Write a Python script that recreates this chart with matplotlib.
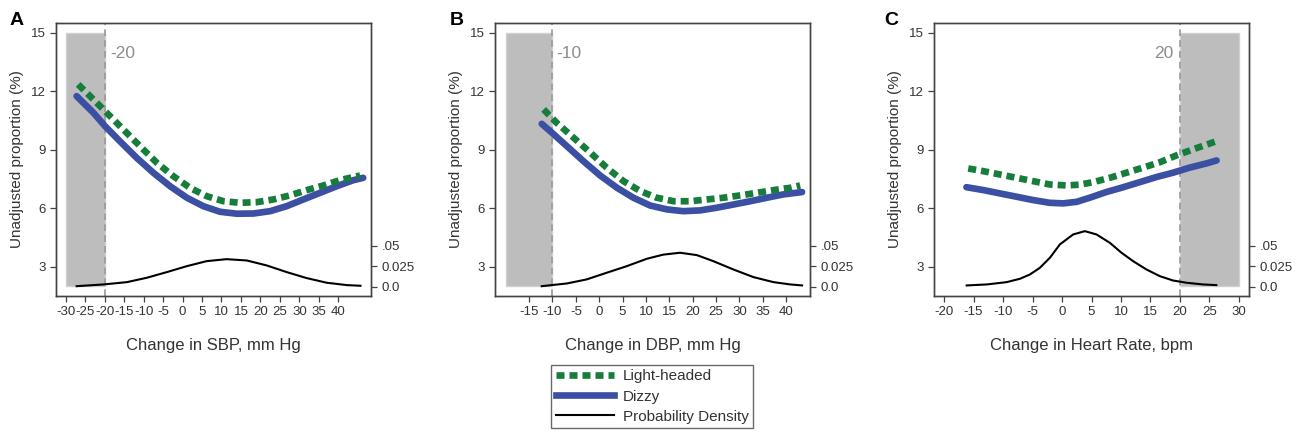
import matplotlib.pyplot as plt
import matplotlib.lines as mlines

plt.rcParams['font.family'] = ['Liberation Sans', 'DejaVu Sans']
plt.rcParams['axes.unicode_minus'] = False

GREEN = '#167d3a'
BLUE = '#3b4fa3'
TXT = '#333333'

# ---- panel A : SBP ----
a_light_x = [-26.8, -22.9, -19.5, -15.2, -10.9, -6.6, -2.4, 1.9, 6.2, 10.5, 14.8, 19.0, 23.3, 27.6, 31.9, 36.2, 40.4, 45.6]
a_light_y = [12.35, 11.58, 10.90, 10.04, 9.18, 8.33, 7.65, 7.05, 6.62, 6.36, 6.28, 6.31, 6.45, 6.66, 6.93, 7.17, 7.44, 7.68]
a_dizzy_x = [-27.2, -22.9, -19.9, -16.1, -11.8, -7.5, -3.2, 1.1, 5.3, 9.6, 13.9, 18.2, 22.5, 26.8, 31.0, 35.3, 39.6, 43.9, 46.4]
a_dizzy_y = [11.75, 10.90, 10.21, 9.44, 8.59, 7.82, 7.13, 6.54, 6.11, 5.82, 5.72, 5.73, 5.85, 6.11, 6.45, 6.79, 7.13, 7.44, 7.56]
a_dens_x = [-27.2, -20.3, -14.3, -9.2, -4.1, 1.1, 6.2, 11.3, 16.5, 21.6, 26.8, 31.9, 37.0, 42.2, 45.7]
a_dens_y = [0.0007, 0.0028, 0.0056, 0.0109, 0.0177, 0.025, 0.0311, 0.0335, 0.0319, 0.0259, 0.0177, 0.0105, 0.0049, 0.0020, 0.0012]

# ---- panel B : DBP ----
b_light_x = [-11.9, -9.1, -5.5, -1.9, 1.6, 5.2, 8.8, 12.3, 15.9, 19.5, 23.0, 26.6, 30.2, 33.7, 37.3, 40.9, 43.0]
b_light_y = [11.07, 10.38, 9.62, 8.85, 8.08, 7.39, 6.88, 6.54, 6.36, 6.36, 6.45, 6.54, 6.66, 6.79, 6.93, 7.05, 7.17]
b_dizzy_x = [-12.3, -10.1, -6.9, -3.4, 0.2, 3.8, 7.3, 10.9, 14.5, 18.0, 21.6, 25.2, 28.7, 32.3, 35.9, 39.4, 43.4]
b_dizzy_y = [10.33, 9.87, 9.18, 8.42, 7.68, 7.05, 6.54, 6.14, 5.94, 5.85, 5.89, 6.03, 6.19, 6.36, 6.54, 6.71, 6.83]
b_dens_x = [-12.3, -6.9, -2.7, 1.6, 5.9, 10.2, 13.7, 17.3, 20.9, 24.4, 28.7, 33.0, 37.3, 40.9, 43.4]
b_dens_y = [0.0007, 0.004, 0.0089, 0.017, 0.025, 0.034, 0.039, 0.0413, 0.0384, 0.0311, 0.021, 0.0117, 0.0056, 0.0028, 0.0016]

# ---- panel C : heart rate ----
c_light_x = [-15.9, -13.3, -10.5, -7.7, -4.9, -2.1, 0.8, 3.0, 5.3, 8.1, 10.9, 13.7, 16.6, 19.4, 22.2, 25.9]
c_light_y = [8.04, 7.90, 7.73, 7.56, 7.39, 7.22, 7.17, 7.21, 7.34, 7.56, 7.82, 8.08, 8.36, 8.71, 9.02, 9.41]
c_dizzy_x = [-16.2, -13.3, -10.5, -7.7, -4.9, -2.1, 0.2, 2.5, 4.7, 7.5, 10.4, 13.2, 16.0, 18.8, 21.6, 24.5, 26.2]
c_dizzy_y = [7.08, 6.93, 6.76, 6.59, 6.42, 6.28, 6.25, 6.33, 6.54, 6.83, 7.08, 7.34, 7.60, 7.82, 8.08, 8.30, 8.45]
c_dens_x = [-16.16, -12.77, -9.39, -7.13, -5.44, -3.75, -2.05, -0.36, 1.89, 3.87, 5.85, 8.10, 10.08, 12.05,
            14.31, 16.57, 18.82, 21.08, 23.90, 26.16]
c_dens_y = [0.0016, 0.0028, 0.0056, 0.0097, 0.0149, 0.023, 0.0352, 0.0514, 0.0635, 0.0675, 0.0635, 0.0534, 0.0413,
            0.0311, 0.021, 0.0129, 0.0076, 0.0049, 0.0028, 0.0020]

panels = [
    dict(tag='A', xlabel='Change in SBP, mm Hg', xlim=(-32.5, 48.4), xticks=list(range(-30, 41, 5)),
         shade=(-30, -20), cut=-20, cut_lbl='-20', lbl_x=-18.6, lbl_ha='left',
         lx=a_light_x, ly=a_light_y, dx=a_dizzy_x, dy=a_dizzy_y, kx=a_dens_x, ky=a_dens_y,
         left=56, tagx=10),
    dict(tag='B', xlabel='Change in DBP, mm Hg', xlim=(-22.3, 45.1), xticks=list(range(-15, 41, 5)),
         shade=(-20, -10), cut=-10, cut_lbl='-10', lbl_x=-9.1, lbl_ha='left',
         lx=b_light_x, ly=b_light_y, dx=b_dizzy_x, dy=b_dizzy_y, kx=b_dens_x, ky=b_dens_y,
         left=495, tagx=450),
    dict(tag='C', xlabel='Change in Heart Rate, bpm', xlim=(-21.7, 31.7), xticks=list(range(-20, 31, 5)),
         shade=(20, 30), cut=20, cut_lbl='20', lbl_x=18.8, lbl_ha='right',
         lx=c_light_x, ly=c_light_y, dx=c_dizzy_x, dy=c_dizzy_y, kx=c_dens_x, ky=c_dens_y,
         left=934, tagx=884),
]

W, H = 1299, 433
fig = plt.figure(figsize=(W / 100, H / 100), dpi=100)

ylo, yhi = 1.5, 15.5
zero_at = 1.974
d_per_unit = 0.02367

for p in panels:
    ax = fig.add_axes([p['left'] / W, 1 - 296 / H, 315 / W, 273 / H])
    ax.set_xlim(*p['xlim'])
    ax.set_ylim(ylo, yhi)
    ax.axvspan(p['shade'][0], p['shade'][1], ymin=(2 - ylo) / (yhi - ylo), ymax=(15 - ylo) / (yhi - ylo),
               facecolor='#bdbdbd', edgecolor='#d0d0d0', lw=1, zorder=1)
    ax.axvline(p['cut'], color='#999999', ls=(0, (4, 2.5)), lw=1.2, zorder=2)
    ax.text(p['lbl_x'], 13.95, p['cut_lbl'], color='#8c8c8c', fontsize=12.5, ha=p['lbl_ha'], va='center')

    ax.plot(p['dx'], p['dy'], color=BLUE, lw=4.8, solid_capstyle='round', solid_joinstyle='round', zorder=3)
    ax.plot(p['lx'], p['ly'], color=GREEN, lw=4.8, dashes=(1.2, 0.75), dash_capstyle='butt', zorder=4)

    ax2 = ax.twinx()
    ax2.set_ylim((ylo - zero_at) * d_per_unit, (yhi - zero_at) * d_per_unit)
    ax2.plot(p['kx'], p['ky'], color='black', lw=1.5, zorder=5)
    ax2.set_yticks([0, 0.025, 0.05])
    ax2.set_yticklabels(['0.0', '0.025', '.05'])

    ax.set_yticks([3, 6, 9, 12, 15])
    ax.set_xticks(p['xticks'])
    ax.set_ylabel('Unadjusted proportion (%)', fontsize=11, color=TXT, labelpad=5)
    ax.set_xlabel(p['xlabel'], fontsize=12, color=TXT, labelpad=14)
    for a in (ax, ax2):
        for s in a.spines.values():
            s.set_color('#444444')
            s.set_linewidth(1.0)
        a.tick_params(labelsize=9.5, labelcolor=TXT, color='#444444', length=4, width=0.9)
    fig.text(p['tagx'] / W, 1 - 25 / H, p['tag'], fontsize=14, fontweight='bold', va='baseline')

handles = [
    mlines.Line2D([], [], color=GREEN, lw=4.8, dashes=(1.2, 0.75), dash_capstyle='butt'),
    mlines.Line2D([], [], color=BLUE, lw=4.8),
    mlines.Line2D([], [], color='black', lw=1.5),
]
leg = fig.legend(handles, ['Light-headed', 'Dizzy', 'Probability Density'], loc='upper center',
                 bbox_to_anchor=(0.502, 0.175), fontsize=11, handlelength=3.8, labelspacing=0.4,
                 borderpad=0.3, handletextpad=0.6, frameon=True, fancybox=False, edgecolor='#444444')
leg.get_frame().set_linewidth(1.0)
for t in leg.get_texts():
    t.set_color(TXT)

fig.savefig('out.png', dpi=100)
